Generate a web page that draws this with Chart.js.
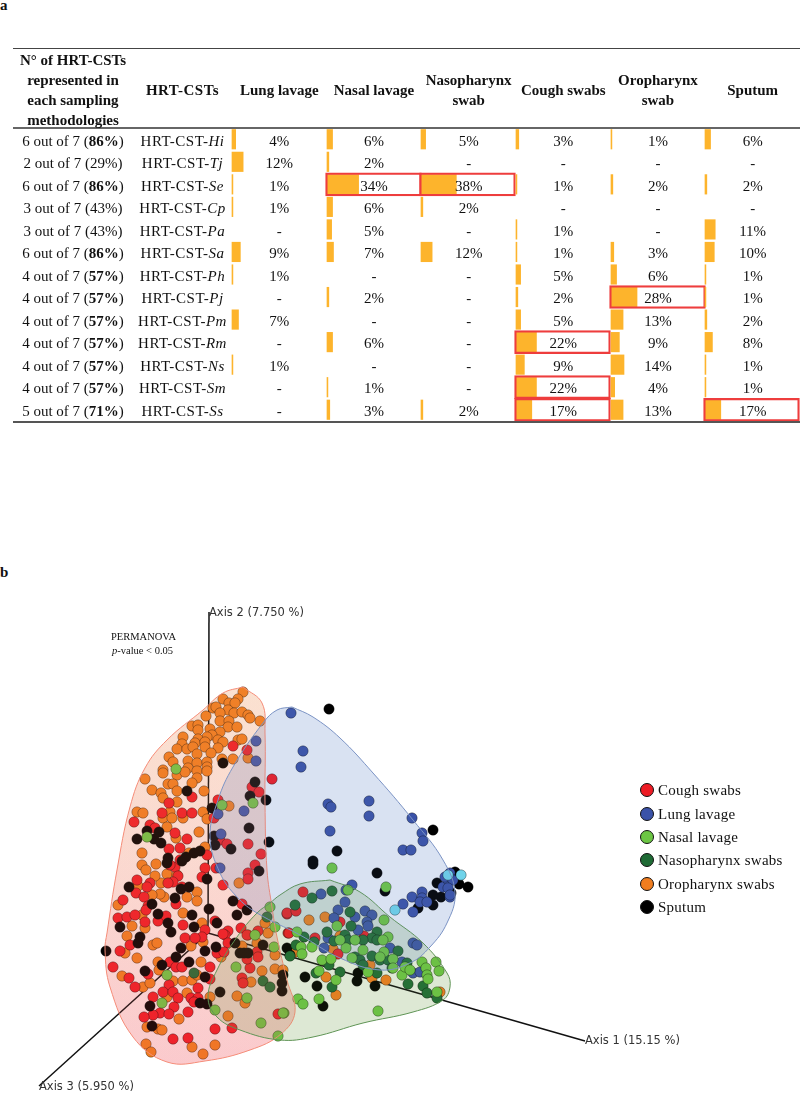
<!DOCTYPE html>
<html>
<head>
<meta charset="utf-8">
<title>HRT-CSTs per sampling methodology</title>
<script src="https://cdn.jsdelivr.net/npm/chart.js@4"></script>
<style>
html, body { margin: 0; padding: 0; background: #fff; }
body { position: relative; width: 800px; height: 1093px; overflow: hidden; font-family: "Liberation Serif", serif; color: #111; }
.abs { position: absolute; white-space: nowrap; }
canvas { position: absolute; }
table { position: absolute; left: 13px; top: 48px; width: 787px; border-collapse: collapse; table-layout: fixed; font-size: 15px; z-index: 2; }
th { height: 78px; padding: 0; line-height: 20px; font-weight: bold; border-top: 1px solid #444; border-bottom: 2px solid #666; }
th div { position: relative; top: 1px; margin-bottom: -2px; }
td { height: 22.5px; padding: 3px 0 0 0; box-sizing: border-box; text-align: center; line-height: 19px; white-space: nowrap; }
tbody tr:last-child td { border-bottom: 2px solid #555; }
.strain { letter-spacing: .5px; }
.axisname { font-family: "DejaVu Sans", sans-serif; font-size: 11.5px; color: #333; }
.legend-row { position: absolute; left: 640px; height: 16px; font-size: 15px; line-height: 16px; letter-spacing: .25px; white-space: nowrap; }
.legend-row i { position: absolute; left: 0; top: 1px; width: 12px; height: 12px; border-radius: 50%; border: 1px solid #111; }
.legend-row span { position: absolute; left: 18px; top: 0; }
</style>
</head>
<body>
<div class="abs" style="left:0;top:-3px;font:bold 15px 'Liberation Serif'">a</div>
<div class="abs" style="left:0;top:564px;font:bold 15px 'Liberation Serif'">b</div>
<table id="tbl"></table>
<canvas id="pcoa" width="800" height="523" style="left:0;top:570px"></canvas>
<div class="abs axisname" style="left:209px;top:605px">Axis 2 (7.750 %)</div>
<div class="abs axisname" style="left:585px;top:1033px">Axis 1 (15.15 %)</div>
<div class="abs axisname" style="left:39px;top:1079px">Axis 3 (5.950 %)</div>
<div class="abs" style="left:111px;top:631px;font-size:10.5px">PERMANOVA</div>
<div class="abs" style="left:112px;top:645px;font-size:10.5px"><em>p</em>-value &lt; 0.05</div>
<div id="legend"></div>
<script>
// table, panel a
var strains = ['Hi', 'Tj', 'Se', 'Cp', 'Pa', 'Sa', 'Ph', 'Pj', 'Pm', 'Rm', 'Ns', 'Sm', 'Ss'];
var representedCount = [6, 2, 6, 3, 3, 6, 4, 4, 4, 4, 4, 4, 5];
var representedShare = [86, 29, 86, 43, 43, 86, 57, 57, 57, 57, 57, 57, 71];
var methodHeaders = ['Lung lavage', 'Nasal lavage', 'Nasopharynx<br>swab', 'Cough swabs', 'Oropharynx<br>swab', 'Sputum'];
var lungLavage = [4, 12, 1, 1, null, 9, 1, null, 7, null, 1, null, null];
var nasalLavage = [6, 2, 34, 6, 5, 7, null, 2, null, 6, null, 1, 3];
var nasopharynxSwab = [5, null, 38, 2, null, 12, null, null, null, null, null, null, 2];
var coughSwabs = [3, null, 1, null, 1, 1, 5, 2, 5, 22, 9, 22, 17];
var oropharynxSwab = [1, null, 2, null, null, 3, 6, 28, 13, 9, 14, 4, 13];
var sputum = [6, null, 2, null, 11, 10, 1, 1, 2, 8, 1, 1, 17];
var methodValues = [lungLavage, nasalLavage, nasopharynxSwab, coughSwabs, oropharynxSwab, sputum];
// rows boxed in red, per method
var boxedRows = [[], [2], [2], [9, 11, 12], [7], [12]];

// PCoA, panel b: values, [axis x, axis y]
var oropharynxPts = [[243,692],[223,699],[238,699],[229,703],[235,703],[213,708],[216,707],[228,710],[220,713],[206,716],[234,713],[242,712],[248,715],[260,721],[250,718],[220,721],[229,721],[192,726],[198,725],[198,730],[210,729],[228,727],[237,727],[220,732],[212,735],[183,737],[207,737],[198,739],[218,740],[223,742],[238,740],[242,739],[182,744],[195,743],[205,742],[177,749],[187,749],[193,747],[205,747],[218,748],[197,754],[211,753],[169,757],[188,761],[222,759],[233,759],[173,762],[197,763],[207,762],[207,767],[163,770],[188,768],[248,758],
[145,779],[163,773],[177,775],[185,772],[197,771],[207,771],[197,778],[192,783],[168,784],[173,784],[152,790],[177,791],[161,793],[204,791],[163,798],[177,802],[170,812],[137,812],[143,813],[203,812],[207,819],[163,818],[172,818],[183,818],[167,827],[199,832],[176,838],[229,806],[142,853],[189,853],[205,847],[142,865],[156,864],[146,870],[167,874],[177,875],[161,883],[155,876],[138,886],[239,883],[164,897],[160,894],[187,897],[197,892],[197,901],[118,905],[152,895],[183,913],[142,915],[132,926],[145,928],[127,936],[202,923],[268,933],[265,923],[248,935],
[125,953],[137,958],[122,976],[143,987],[150,983],[153,945],[157,943],[158,962],[159,970],[191,946],[203,942],[221,957],[201,962],[173,981],[183,981],[192,980],[197,975],[187,993],[167,997],[210,997],[179,1019],[158,1029],[162,1030],[147,1027],[146,1044],[151,1052],[192,1047],[215,1045],[203,1054],[237,996],[245,1003],[228,1016],[242,946],[257,943],[251,982],[262,971],[275,969],[283,970],[275,955],
[309,920],[325,917],[340,936],[333,949],[295,952],[326,977],[336,995],[386,980],[372,978],[440,992],[370,965]];
var coughPts = [[233,746],[247,750],[272,779],[252,787],[259,792],[192,797],[169,803],[218,800],[182,813],[162,813],[192,813],[134,822],[150,825],[155,828],[187,839],[214,818],[175,833],[220,840],[227,844],[248,844],[261,854],[169,849],[180,848],[207,855],[175,867],[170,865],[180,860],[205,868],[216,868],[255,865],[248,873],[248,879],[223,885],[202,877],[178,876],[173,882],[168,883],[150,883],[137,880],[147,887],[182,887],[136,893],[144,897],[123,900],[176,904],[148,906],[146,910],[242,904],[118,918],[127,917],[135,915],[145,922],[158,921],[166,916],[183,925],[215,921],[205,930],[241,928],[228,931],[225,935],[185,938],[202,937],[287,914],[288,933],[258,931],
[120,951],[130,945],[113,967],[129,978],[135,987],[195,938],[223,934],[228,943],[217,953],[224,952],[170,962],[176,967],[182,967],[148,974],[210,967],[210,979],[169,985],[163,992],[173,992],[153,997],[178,998],[198,988],[191,998],[198,998],[194,1002],[174,1007],[160,1013],[169,1014],[153,1015],[144,1017],[188,1012],[215,1029],[173,1039],[188,1038],[232,1028],[242,978],[243,983],[250,968],[257,952],[258,957],[247,959],[247,935],[278,1014],
[303,892],[287,913],[296,911],[340,922],[289,933],[315,938],[364,936],[338,954]];
var lungPts = [[256,741],[256,761],[218,814],[244,811],[221,834],[220,868],[291,713],[303,751],[301,767],[328,804],[331,807],[369,801],[369,816],[412,818],[422,833],[423,841],[330,831],[403,850],[411,850],
[352,885],[346,890],[321,894],[345,902],[338,910],[334,918],[355,917],[365,911],[372,915],[367,922],[368,926],[358,930],[328,938],[324,948],[390,948],[413,943],[417,945],[402,962],[403,904],[412,897],[413,912],[422,892],[422,898],[420,902],[427,902],[450,897],[443,887],[448,880],[450,873],[445,877],[453,880],[448,888],[450,895],[413,973],[420,972]];
var cyanPts = [[395,910],[461,875],[448,875]];
var nasalPts = [[176,769],[222,805],[253,803],[147,837],[270,907],[275,927],[167,975],[162,1003],[215,1010],[236,967],[247,998],[274,947],[261,1023],[284,1013],[278,1036],[255,935],
[332,868],[386,887],[348,890],[384,920],[337,926],[388,937],[355,940],[346,948],[363,950],[383,940],[384,952],[297,932],[301,947],[302,954],[312,947],[322,960],[331,959],[319,971],[352,958],[368,972],[393,959],[393,968],[402,975],[405,967],[422,962],[426,968],[436,962],[439,971],[427,975],[428,979],[437,992],[336,980],[378,1011],[298,999],[303,1004],[319,999],[283,1013],[380,957],[340,940],[410,970]];
var nasopharynxPts = [[267,917],[194,973],[263,981],[270,987],
[312,898],[332,891],[295,905],[350,912],[304,937],[314,942],[327,932],[334,941],[351,926],[345,935],[348,940],[377,932],[372,938],[377,940],[363,940],[398,951],[355,957],[360,960],[372,956],[380,960],[388,960],[329,965],[340,972],[316,973],[363,965],[377,973],[408,984],[332,987],[423,986],[427,993],[437,998],[392,968],[407,963],[296,945],[290,956]];
var sputumPts = [[223,763],[255,782],[250,796],[266,800],[187,791],[212,808],[249,828],[269,842],[147,831],[159,832],[154,839],[161,843],[137,839],[214,836],[215,845],[231,849],[200,851],[194,853],[186,857],[182,861],[168,858],[167,863],[259,871],[207,879],[129,887],[189,887],[181,889],[233,901],[247,910],[237,915],[175,898],[152,904],[209,909],[192,915],[158,914],[120,927],[168,923],[194,927],[171,932],[217,923],[140,937],
[106,951],[138,943],[181,948],[176,957],[189,962],[205,951],[216,947],[145,971],[162,965],[205,977],[150,1006],[152,1026],[200,1003],[207,1004],[220,992],[235,943],[244,953],[240,953],[248,953],[263,945],[287,948],[283,975],[282,983],[282,991],[290,955],
[329,709],[433,830],[337,851],[313,861],[313,864],[377,873],[385,891],[468,887],[459,884],[437,883],[433,905],[418,908],[441,897],[433,895],[451,893],[455,872],[305,977],[317,986],[323,1006],[358,973],[357,981],[375,986]];

var coughHull = [[243,687],[262,703],[265,733],[265,803],[267,870],[272,907],[277,937],[287,980],[295,1012],[281,1034],[250,1050],[205,1061],[167,1062],[133,1037],[110,987],[105,950],[107,933],[117,870],[130,807],[145,768],[167,740],[203,710],[223,693],[243,687]];
var lungHull = [[292,707],[313,717],[340,738],[373,773],[413,820],[443,860],[455,893],[447,923],[430,947],[410,963],[380,970],[340,958],[300,935],[257,913],[237,897],[220,873],[210,837],[218,800],[233,767],[263,723],[277,710],[292,707]];
var nasalHull = [[330,880],[360,892],[390,917],[423,943],[447,973],[450,987],[443,1000],[413,1012],[363,1023],[313,1037],[280,1040],[240,1030],[217,1017],[208,997],[217,970],[237,937],[257,913],[270,903],[280,895],[300,884],[330,880]];
var axis1Line = [[208,933],[585,1041]];
var axis2Line = [[208,933],[209,612]];
var axis3Line = [[208,933],[39,1086]];

var legendNames = ['Cough swabs', 'Lung lavage', 'Nasal lavage', 'Nasopharynx swabs', 'Oropharynx swabs', 'Sputum'];
var legendColors = ['#ee1c25', '#3a52a8', '#6cc644', '#1f6b35', '#f07d1f', '#000000'];
var legendTops = [782, 806, 829, 852, 876, 899];

// text of the table
var html = '<colgroup><col style="width:120px"><col style="width:99px">';
for (var c = 0; c < 6; c++) html += '<col style="width:94.67px">';
html += '</colgroup><thead><tr><th><div>N° of HRT-CSTs<br>represented in<br>each sampling<br>methodologies</div></th><th><div class="strain">HRT-CSTs</div></th>';
methodHeaders.forEach(function (h) { html += '<th><div>' + h + '</div></th>'; });
html += '</tr></thead><tbody>';
strains.forEach(function (s, i) {
    var share = representedShare[i] > 50 ? '<b>' + representedShare[i] + '%</b>' : representedShare[i] + '%';
    html += '<tr><td>' + representedCount[i] + ' out of 7 (' + share + ')</td><td class="strain">HRT-CST-<i>' + s + '</i></td>';
    methodValues.forEach(function (vals) {
        html += '<td>' + (vals[i] === null ? '-' : vals[i] + '%') + '</td>';
    });
    html += '</tr>';
});
document.getElementById('tbl').innerHTML = html + '</tbody>';

// one small bar chart per method column
methodValues.forEach(function (vals, c) {
    var cv = document.createElement('canvas');
    cv.width = 99;
    cv.height = 296;
    cv.style.left = Math.round(232 + c * 94.67 - 3) + 'px';
    cv.style.top = '128px';
    document.body.appendChild(cv);
    var boxes = strains.map(function (s, i) {
        return boxedRows[c].indexOf(i) >= 0 ? [-1.5, 101.5] : null;
    });
    new Chart(cv.getContext('2d'), {
        type: 'bar',
        data: {
            labels: strains,
            datasets: [{
                data: boxes,
                grouped: false,
                order: 1,
                clip: false,
                barThickness: 23,
                backgroundColor: 'rgba(0,0,0,0)',
                borderColor: '#ee3d3d',
                borderWidth: 1.6,
                borderSkipped: false
            }, {
                data: vals,
                grouped: false,
                order: 2,
                barThickness: 19.5,
                backgroundColor: '#fdb42c'
            }]
        },
        options: {
            indexAxis: 'y',
            responsive: false,
            animation: false,
            layout: { padding: { bottom: 3 } },
            plugins: { legend: { display: false }, tooltip: { enabled: false } },
            scales: {
                x: { display: false, min: -3.2, max: 103.2 },
                y: { display: false }
            }
        }
    });
});

// legend of panel b
var legendEl = document.getElementById('legend');
legendNames.forEach(function (n, i) {
    var row = document.createElement('div');
    row.className = 'legend-row';
    row.style.top = legendTops[i] + 'px';
    row.innerHTML = '<i style="background:' + legendColors[i] + '"></i><span>' + n + '</span>';
    legendEl.appendChild(row);
});

// scatter with hulls: a weak tint goes over the points (black dots turn brown in the red hull),
// the rest of the hull colour sits under them so the points stay vivid
var ctx = document.getElementById('pcoa').getContext('2d');
function coughFill(a) {
    var g = ctx.createLinearGradient(0, 110, 0, 490);
    g.addColorStop(0, 'rgba(238,150,90,' + a + ')');
    g.addColorStop(0.5, 'rgba(240,120,90,' + a + ')');
    g.addColorStop(1, 'rgba(240,70,80,' + a + ')');
    return g;
}

function toXY(list) {
    return list.map(function (p) { return { x: p[0], y: p[1] }; });
}
function ptsSet(name, list, color, order) {
    return {
        label: name,
        data: toXY(list),
        order: order,
        backgroundColor: color,
        borderColor: 'rgba(0,0,0,.35)',
        borderWidth: 1,
        pointRadius: 5.2
    };
}
function hullSet(name, list, fill, line, order) {
    return {
        label: name,
        data: toXY(list),
        order: order,
        showLine: true,
        fill: 'shape',
        tension: 0.4,
        pointRadius: 0,
        borderWidth: 1,
        borderColor: line,
        backgroundColor: fill
    };
}
function axisSet(name, list) {
    return {
        label: name,
        data: toXY(list),
        order: 20,
        showLine: true,
        pointRadius: 0,
        borderWidth: 1.5,
        borderColor: '#111'
    };
}

new Chart(ctx, {
    type: 'scatter',
    data: {
        datasets: [
            axisSet('Axis 1', axis1Line),
            axisSet('Axis 2', axis2Line),
            axisSet('Axis 3', axis3Line),
            ptsSet('Oropharynx swabs', oropharynxPts, '#f07d1f', 10),
            ptsSet('Cough swabs', coughPts, '#ee1c25', 9),
            ptsSet('Sputum', sputumPts, '#000000', 8),
            ptsSet('Lung lavage', lungPts, '#3a52a8', 7),
            ptsSet('Cyan', cyanPts, '#6fd3ea', 6),
            ptsSet('Nasopharynx swabs', nasopharynxPts, '#1f6b35', 5),
            ptsSet('Nasal lavage', nasalPts, '#6cc644', 4),
            hullSet('Lung hull under', lungHull, 'rgba(90,125,195,.14)', 'rgba(0,0,0,0)', 30),
            hullSet('Nasal hull under', nasalHull, 'rgba(105,155,65,.14)', 'rgba(0,0,0,0)', 30),
            hullSet('Cough hull under', coughHull, coughFill(0.17), 'rgba(0,0,0,0)', 30),
            hullSet('Lung hull', lungHull, 'rgba(90,125,195,.1)', '#7b93c4', 1),
            hullSet('Nasal hull', nasalHull, 'rgba(105,155,65,.1)', '#5f9455', 1),
            hullSet('Cough hull', coughHull, coughFill(0.14), '#f58c78', 1)
        ]
    },
    options: {
        responsive: false,
        animation: false,
        layout: { autoPadding: false },
        plugins: { legend: { display: false }, tooltip: { enabled: false } },
        scales: {
            x: { display: false, min: 0, max: 800 },
            y: { display: false, min: 570, max: 1093, reverse: true }
        }
    }
});
</script>
</body>
</html>
